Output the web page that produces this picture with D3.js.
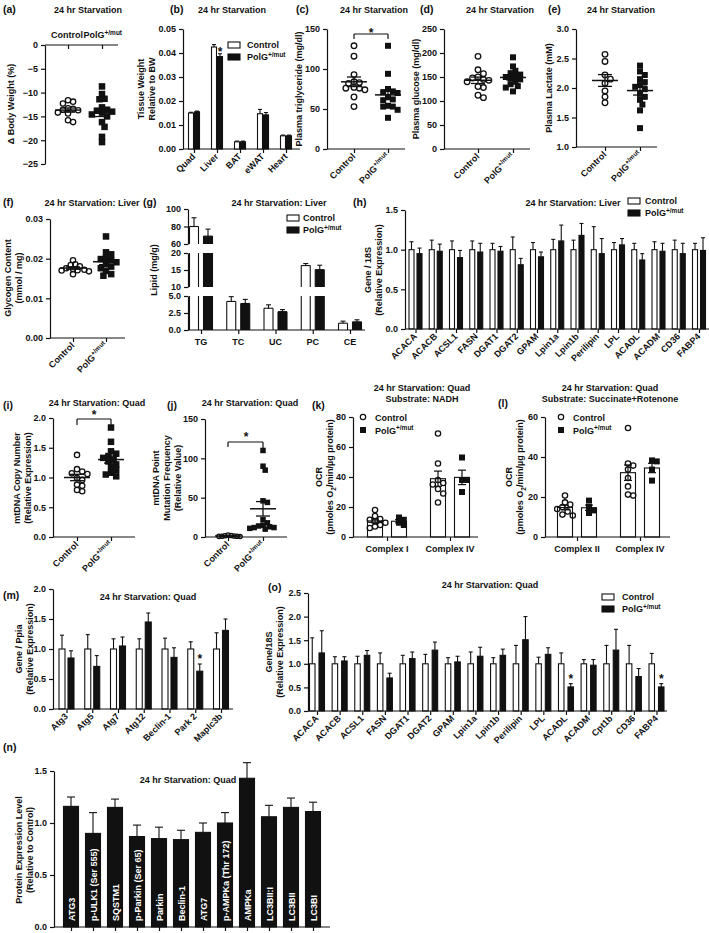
<!DOCTYPE html>
<html><head><meta charset="utf-8">
<script src="https://cdn.jsdelivr.net/npm/d3@7"></script>
<style>
body{margin:0;background:#fff}
svg{display:block}
</style></head><body>
<svg id="chart" width="709" height="933"></svg>
<script>
// ================= DATA =================
const groupsCP = ["Control", "PolG"];

const aControl = [-11.6, -11.9, -12.3, -13.3, -13.4, -13.6, -13.7, -14.2, -14.4, -15.8, -16.2];
const aPolG = [-8.7, -10.3, -11.3, -11.4, -13.1, -13.6, -13.8, -14.0, -14.2, -14.6, -15.0, -16.2, -17.2, -19.3, -20.4];
const aTicks = [0, -5, -10, -15, -20, -25];

const bTissues = ["Quad", "Liver", "BAT", "eWAT", "Heart"];
const bControl = [0.0150, 0.0425, 0.0030, 0.0147, 0.0055];
const bControlSem = [0.0003, 0.0010, 0.0003, 0.0018, 0.0003];
const bPolG = [0.0155, 0.0385, 0.0030, 0.0142, 0.0055];
const bPolGSem = [0.0003, 0.0012, 0.0003, 0.0010, 0.0003];
const bTicks = [0, 0.01, 0.02, 0.03, 0.04, 0.05];

const cControl = [129, 116, 93, 84, 83, 82, 77, 76, 76, 74, 65, 53];
const cPolG = [129, 94, 75, 72, 71, 70, 65, 62, 61, 54, 53, 53, 49, 39];
const cTicks = [0, 50, 100, 150];

const dControl = [193, 165, 157, 150, 148, 145, 143, 140, 130, 128, 112, 107];
const dPolG = [191, 172, 163, 158, 155, 152, 150, 147, 145, 140, 135, 131, 128, 120];
const dTicks = [0, 50, 100, 150, 200, 250];

const eControl = [2.57, 2.45, 2.22, 2.15, 2.08, 1.95, 1.85, 1.75];
const ePolG = [2.38, 2.28, 2.22, 2.15, 2.10, 2.05, 2.02, 1.98, 1.90, 1.85, 1.80, 1.72, 1.62, 1.32];
const eTicks = [1.0, 1.5, 2.0, 2.5, 3.0];

const fControl = [0.0196, 0.0186, 0.0184, 0.0181, 0.0176, 0.0174, 0.0172, 0.0171, 0.0170, 0.0168, 0.0161];
const fPolG = [0.0256, 0.0216, 0.0211, 0.0202, 0.0199, 0.0196, 0.0191, 0.0186, 0.0180, 0.0176, 0.0169, 0.0161, 0.0157];
const fTicks = [0, 0.01, 0.02, 0.03];

const gLipids = ["TG", "TC", "UC", "PC", "CE"];
const gControl = [80, 4.2, 3.2, 16.3, 1.0];
const gControlSem = [10, 0.7, 0.5, 0.6, 0.3];
const gPolG = [69, 3.9, 2.7, 15.1, 1.2];
const gPolGSem = [8, 0.6, 0.3, 1.3, 0.3];
const gTicksLow = [0, 2.5, 5], gTicksMid = [10, 15, 20], gTicksTop = [60, 80, 100];

const hGenes = ["ACACA","ACACB","ACSL1","FASN","DGAT1","DGAT2","GPAM","Lpin1a","Lpin1b","Perilipin","LPL","ACADL","ACADM","CD36","FABP4"];
const hControl = [1,1,1,1,1,1,1,1,1,1,1,1,1,1,1];
const hControlSem = [0.10,0.12,0.11,0.11,0.08,0.16,0.09,0.13,0.12,0.29,0.09,0.08,0.10,0.12,0.08];
const hPolG = [0.95,0.98,0.90,0.97,0.98,0.81,0.91,1.11,1.18,0.95,1.06,0.87,0.98,0.95,0.99];
const hPolGSem = [0.07,0.09,0.09,0.11,0.06,0.08,0.06,0.20,0.15,0.19,0.08,0.08,0.10,0.13,0.16];
const hTicks = [0, 0.5, 1.0, 1.5];

const iControl = [1.38, 1.14, 1.10, 1.07, 1.06, 0.99, 0.96, 0.88, 0.86, 0.79, 0.77];
const iPolG = [1.84, 1.60, 1.44, 1.40, 1.36, 1.33, 1.30, 1.27, 1.22, 1.18, 1.13, 1.08, 1.05, 1.02];
const iTicks = [0, 0.5, 1.0, 1.5, 2.0];

const jControl = [2.5, 2.0, 1.5, 1.2, 1.0, 0.9, 0.8, 0.6];
const jPolG = [110, 90, 85, 46, 44, 22, 18, 15, 14, 13, 12, 12, 11, 10];
const jTicks = [0, 50, 100, 150];

const kComplexes = ["Complex I", "Complex IV"];
const kControlPts = [[18, 14, 12, 11.5, 10.5, 9.5, 8, 7, 6], [69, 49, 38, 36, 35, 32, 29, 23]];
const kPolGPts = [[13, 11.5, 9.5, 8], [53, 38, 38, 30]];
const kTicks = [0, 20, 40, 60, 80];

const lComplexes = ["Complex II", "Complex IV"];
const lControlPts = [[20.7, 17.3, 16.2, 15, 14, 12.8, 11.2, 10.7], [54.5, 36.7, 35.7, 33.7, 29.5, 25.3, 21.2, 20.7]];
const lPolGPts = [[18.2, 15, 13.3, 12], [38.3, 37.8, 33.7, 28.2]];
const lTicks = [0, 20, 40, 60];

const mGenes = ["Atg3","Atg5","Atg7","Atg12","Beclin-1","Park 2","Maplc3b"];
const mControl = [1,1,1,1,1,1,1];
const mControlSem = [0.23, 0.24, 0.17, 0.17, 0.18, 0.12, 0.27];
const mPolG = [0.85, 0.71, 1.05, 1.45, 0.86, 0.63, 1.31];
const mPolGSem = [0.12, 0.18, 0.15, 0.15, 0.16, 0.12, 0.19];
const mTicks = [0, 0.5, 1.0, 1.5, 2.0];

const oGenes = ["ACACA","ACACB","ACSL1","FASN","DGAT1","DGAT2","GPAM","Lpin1a","Lpin1b","Perilipin","LPL","ACADL","ACADM","Cpt1b","CD36","FABP4"];
const oControl = [1,1,1,1,1,1,1,1,1,1,1,1,1,1,1,1];
const oControlSem = [0.55,0.15,0.16,0.23,0.18,0.20,0.13,0.25,0.13,0.39,0.14,0.23,0.09,0.39,0.39,0.22];
const oPolG = [1.23,1.06,1.18,0.70,1.11,1.29,1.04,1.16,1.18,1.51,1.20,0.51,0.97,1.29,0.73,0.51];
const oPolGSem = [0.47,0.09,0.10,0.10,0.14,0.17,0.12,0.19,0.13,0.49,0.14,0.07,0.12,0.44,0.17,0.07];
const oTicks = [0, 0.5, 1.0, 1.5, 2.0, 2.5];

const nProteins = ["ATG3","p-ULK1 (Ser 555)","SQSTM1","p-Parkin (Ser 65)","Parkin","Beclin-1","ATG7","p-AMPKa (Thr 172)","AMPKa","LC3BII:I","LC3BII","LC3BI"];
const nValues = [1.16, 0.90, 1.15, 0.87, 0.85, 0.84, 0.91, 1.00, 1.43, 1.06, 1.15, 1.11];
const nSem = [0.09, 0.20, 0.08, 0.11, 0.11, 0.09, 0.09, 0.10, 0.15, 0.11, 0.09, 0.09];
const nTicks = [0, 0.5, 1.0, 1.5];

// ================= HELPERS =================
const svg = d3.select("#chart");
const FONT = '"Liberation Sans", Arial, Helvetica, sans-serif';
const INK = "#111";

function txt(x, y, s, o = {}) {
  const t = svg.append("text").attr("x", x).attr("y", y)
    .attr("font-family", FONT).attr("font-weight", o.weight || "bold")
    .attr("font-size", o.size || 9).attr("fill", o.fill || INK)
    .attr("text-anchor", o.anchor || "start");
  if (o.rotate != null) t.attr("transform", `rotate(${o.rotate},${x},${y})`);
  t.text(s);
  return t;
}
function sup(t, s) { t.append("tspan").attr("dy", -3.5).attr("font-size", 6.5).text(s); return t; }
function polgText(x, y, o) { return sup(txt(x, y, "PolG", o), "+/mut"); }
function panelLabel(x, y, s) { txt(x, y, s, { size: 10.5 }); }
function title(x, y, s) { txt(x, y, s, { size: 9, anchor: "middle" }); }
function yLabel(x, yc, lines) { lines.forEach((l, i) => txt(x + i * 11, yc, l, { anchor: "middle", rotate: -90, size: 9 })); }
function line(x1, y1, x2, y2, w = 1.2) {
  svg.append("line").attr("x1", x1).attr("y1", y1).attr("x2", x2).attr("y2", y2)
    .attr("stroke", INK).attr("stroke-width", w);
}
function rect(x, y, w, h, filled) {
  svg.append("rect").attr("x", x).attr("y", y).attr("width", w).attr("height", Math.max(0, h))
    .attr("fill", filled ? INK : "#fff").attr("stroke", INK).attr("stroke-width", 1.1);
}
function styleAxis(a) {
  a.attr("font-family", FONT).attr("font-size", 9).attr("font-weight", "bold");
  a.selectAll("path,line").attr("stroke", INK).attr("stroke-width", 1.2);
  a.selectAll("text").attr("fill", INK);
}
function yAxis(scale, x, ticks, fmt) {
  const a = svg.append("g").attr("transform", `translate(${x},0)`)
    .call(d3.axisLeft(scale).tickValues(ticks).tickFormat(fmt).tickSize(4).tickSizeOuter(0));
  styleAxis(a); return a;
}
function xAxis(scale, y, x0, x1) {
  const a = svg.append("g").attr("transform", `translate(0,${y})`)
    .call(d3.axisBottom(scale).tickSize(4).tickFormat(""));
  a.select(".domain").remove();
  a.append("line").attr("x1", x0).attr("x2", x1);
  styleAxis(a); return a;
}
function rotLabels(scale, keys, y, names) {
  keys.forEach((k, i) => txt(scale(k) + 2, y, names ? names[i] : k, { anchor: "end", rotate: -45 }));
}
function cpLabels(scale, y) {
  txt(scale("Control") + 2, y, "Control", { anchor: "end", rotate: -45 });
  polgText(scale("PolG") + 2, y, { anchor: "end", rotate: -45 });
}
function swarm(values, yScale, r, f) {
  const pts = values.map(v => ({ v, y: yScale(v) })).sort((a, b) => a.y - b.y);
  const placed = [];
  const d = 2 * r;
  const minD = d * f, step = minD * 0.5;
  pts.forEach(p => {
    for (let k = 0; k < 80; k++) {
      const off = k === 0 ? 0 : (k % 2 ? 1 : -1) * Math.ceil(k / 2) * step;
      if (placed.every(q => (q.dx - off) ** 2 + (q.y - p.y) ** 2 >= minD * minD)) { p.dx = off; break; }
    }
    if (p.dx == null) p.dx = 0;
    placed.push(p);
  });
  return pts;
}
function drawPoints(cx, values, yScale, shape, size, f = 0.8) {
  const r = size / 2;
  swarm(values, yScale, r, f).forEach(p => {
    if (shape === "circle") {
      svg.append("circle").attr("cx", cx + p.dx).attr("cy", p.y).attr("r", r - 0.6)
        .attr("fill", "none").attr("stroke", INK).attr("stroke-width", 1.3);
    } else {
      svg.append("rect").attr("x", cx + p.dx - r).attr("y", p.y - r).attr("width", size).attr("height", size).attr("fill", INK);
    }
  });
}
function meanSem(cx, values, yScale, hwM = 13, hwS = 7) {
  const m = d3.mean(values), s = d3.deviation(values) / Math.sqrt(values.length);
  line(cx - hwM, yScale(m), cx + hwM, yScale(m), 1.5);
  line(cx, yScale(m + s), cx, yScale(m - s), 1.3);
  line(cx - hwS, yScale(m + s), cx + hwS, yScale(m + s), 1.3);
  line(cx - hwS, yScale(m - s), cx + hwS, yScale(m - s), 1.3);
}
function errUp(x, y1, y2, cap) { line(x, y1, x, y2, 1.1); line(x - cap, y2, x + cap, y2, 1.1); }
function groupedBars(keys, x, y, ctrl, ctrlE, polg, polgE, off, w, cap) {
  keys.forEach((k, i) => {
    const cx = x(k);
    [[ctrl[i], ctrlE[i], false, -off], [polg[i], polgE[i], true, off]].forEach(([v, e, f, o]) => {
      const bx = cx + o;
      errUp(bx, y(v), y(v + e), cap);
      rect(bx - w / 2, y(v), w, y(0) - y(v), f);
    });
  });
}
function star(x, y) { txt(x, y, "*", { anchor: "middle", size: 12 }); }
function legendBars(x, y, tx) {
  rect(x, y - 6, 12, 6, false); txt(tx, y, "Control");
  rect(x, y + 6, 12, 6, true); polgText(tx, y + 12);
}

// ================= (a) =================
{
  const y = d3.scaleLinear().domain([-25, 0]).range([164, 45]);
  const x = d3.scalePoint().domain(groupsCP).range([68, 102]);
  panelLabel(3, 13, "(a)"); title(88, 13, "24 hr Starvation");
  yAxis(y, 45, aTicks, d3.format("d"));
  xAxis(x, y(0), 45, 118);
  txt(83, 38, "Control", { anchor: "end" }); polgText(83.5, 38);
  yLabel(14, 104, ["\u0394 Body Weight (%)"]);
  drawPoints(x("Control"), aControl, y, "circle", 6.5, 0.78);
  drawPoints(x("PolG"), aPolG, y, "square", 6.5, 0.78);
  meanSem(x("Control"), aControl, y); meanSem(x("PolG"), aPolG, y);
}
// ================= (b) =================
{
  const y = d3.scaleLinear().domain([0, 0.05]).range([149, 29]);
  const x = d3.scalePoint().domain(bTissues).range([194, 286]);
  panelLabel(170, 13, "(b)"); title(232, 13, "24 hr Starvation");
  yAxis(y, 183, bTicks, d3.format(".2f"));
  xAxis(x, 149, 183, 300);
  yLabel(144, 89, ["Tissue Weight", "Relative to BW"]);
  groupedBars(bTissues, x, y, bControl, bControlSem, bPolG, bPolGSem, 3, 5, 2);
  star(x("Liver") + 3, y(bPolG[1] + bPolGSem[1]) + 2);
  rotLabels(x, bTissues, 157);
  legendBars(228, 48, 247);
}
// ================= (c) =================
{
  const y = d3.scaleLinear().domain([0, 150]).range([149, 29]);
  const x = d3.scalePoint().domain(groupsCP).range([354, 388]);
  panelLabel(296, 13, "(c)"); title(374, 13, "24 hr Starvation");
  yAxis(y, 327, cTicks, d3.format("d"));
  xAxis(x, 149, 327, 405);
  yLabel(302, 89, ["Plasma triglyceride (mg/dl)"]);
  drawPoints(x("Control"), cControl, y, "circle", 6.8, 0.8);
  drawPoints(x("PolG"), cPolG, y, "square", 6, 0.8);
  meanSem(x("Control"), cControl, y); meanSem(x("PolG"), cPolG, y);
  line(x("Control"), 39, x("Control"), 34); line(x("Control"), 34, x("PolG"), 34); line(x("PolG"), 34, x("PolG"), 39);
  star(371, 37);
  cpLabels(x, 157);
}
// ================= (d) =================
{
  const y = d3.scaleLinear().domain([0, 250]).range([149, 29]);
  const x = d3.scalePoint().domain(groupsCP).range([478, 513]);
  panelLabel(420, 13, "(d)"); title(500, 13, "24 hr Starvation");
  yAxis(y, 444, dTicks, d3.format("d"));
  xAxis(x, 149, 444, 530);
  yLabel(419, 89, ["Plasma glucose (mg/dl)"]);
  drawPoints(x("Control"), dControl, y, "circle", 6.8, 0.8);
  drawPoints(x("PolG"), dPolG, y, "square", 6, 0.8);
  meanSem(x("Control"), dControl, y); meanSem(x("PolG"), dPolG, y);
  cpLabels(x, 157);
}
// ================= (e) =================
{
  const y = d3.scaleLinear().domain([1, 3]).range([147, 29]);
  const x = d3.scalePoint().domain(groupsCP).range([605, 640]);
  panelLabel(548, 13, "(e)"); title(621, 13, "24 hr Starvation");
  yAxis(y, 576, eTicks, d3.format(".1f"));
  xAxis(x, 147, 576, 657);
  yLabel(552, 88, ["Plasma Lactate (mM)"]);
  drawPoints(x("Control"), eControl, y, "circle", 6.8, 0.8);
  drawPoints(x("PolG"), ePolG, y, "square", 6, 0.8);
  meanSem(x("Control"), eControl, y); meanSem(x("PolG"), ePolG, y);
  cpLabels(x, 155);
}
// ================= (f) =================
{
  const y = d3.scaleLinear().domain([0, 0.03]).range([338, 219]);
  const x = d3.scalePoint().domain(groupsCP).range([73, 106]);
  panelLabel(3, 206, "(f)"); title(92, 206, "24 hr Starvation: Liver");
  yAxis(y, 50, fTicks, d3.format(".2f"));
  xAxis(x, 338, 50, 125);
  yLabel(11, 278, ["Glycogen Content", "(mmol / mg)"]);
  drawPoints(x("Control"), fControl, y, "circle", 6.5, 0.7);
  drawPoints(x("PolG"), fPolG, y, "square", 6.5, 0.8);
  meanSem(x("Control"), fControl, y); meanSem(x("PolG"), fPolG, y);
  cpLabels(x, 346);
}
// ================= (g) broken axis =================
{
  const gLow = d3.scaleLinear().domain([0, 5]).range([330, 296]);
  const gMid = d3.scaleLinear().domain([10, 20]).range([287, 253]);
  const gTop = d3.scaleLinear().domain([60, 100]).range([244, 209]);
  const segs = [{ lo: 0, hi: 5, s: gLow }, { lo: 10, hi: 20, s: gMid }, { lo: 60, hi: 100, s: gTop }];
  const x = d3.scalePoint().domain(gLipids).range([201, 350]);
  panelLabel(143, 206, "(g)"); title(279, 206, "24 hr Starvation: Liver");
  yAxis(gLow, 188, gTicksLow, d3.format(".1f"));
  yAxis(gMid, 188, gTicksMid, d3.format("d"));
  yAxis(gTop, 188, gTicksTop, d3.format("d"));
  yLabel(157, 270, ["Lipid (mg/g)"]);
  const w = 9, off = 7;
  function brokenBar(bx, v, e, filled) {
    segs.forEach(sg => {
      if (v <= sg.lo) return;
      const top = Math.min(v, sg.hi);
      const yb = sg.s(sg.lo), yt = sg.s(top);
      svg.append("rect").attr("x", bx - w / 2).attr("y", yt).attr("width", w).attr("height", yb - yt).attr("fill", filled ? INK : "#fff");
      line(bx - w / 2, yb, bx - w / 2, yt, 1.1); line(bx + w / 2, yb, bx + w / 2, yt, 1.1);
      if (v <= sg.hi) line(bx - w / 2, yt, bx + w / 2, yt, 1.1);
      if (v > sg.lo && v <= sg.hi) errUp(bx, yt, sg.s(Math.min(v + e, sg.hi)), 2.5);
    });
  }
  gLipids.forEach((k, i) => {
    brokenBar(x(k) - off, gControl[i], gControlSem[i], false);
    brokenBar(x(k) + off, gPolG[i], gPolGSem[i], true);
  });
  xAxis(x, 330, 188, 365);
  gLipids.forEach(k => txt(x(k), 345, k, { anchor: "middle" }));
  legendBars(287, 221, 303);
}
// ================= (h) =================
{
  const y = d3.scaleLinear().domain([0, 1.5]).range([329, 210]);
  const x = d3.scalePoint().domain(hGenes).range([415.5, 699]);
  panelLabel(353, 206, "(h)"); title(573, 206, "24 hr Starvation: Liver");
  yAxis(y, 405, hTicks, d3.format(".1f"));
  yLabel(371, 270, ["Gene / 18S", "(Relative Expression)"]);
  groupedBars(hGenes, x, y, hControl, hControlSem, hPolG, hPolGSem, 4, 5, 2);
  xAxis(x, 329, 405, 709);
  rotLabels(x, hGenes, 337);
  legendBars(628, 204, 645);
}
// ================= (i) =================
{
  const y = d3.scaleLinear().domain([0, 2]).range([537, 418]);
  const x = d3.scalePoint().domain(groupsCP).range([77, 111]);
  panelLabel(3, 409, "(i)"); title(97, 406, "24 hr Starvation: Quad");
  yAxis(y, 53, iTicks, d3.format(".1f"));
  xAxis(x, 537, 53, 135);
  yLabel(20, 478, ["mtDNA Copy Number", "(Relative Expression)"]);
  drawPoints(x("Control"), iControl, y, "circle", 6.5, 0.8);
  drawPoints(x("PolG"), iPolG, y, "square", 6.5, 0.8);
  meanSem(x("Control"), iControl, y); meanSem(x("PolG"), iPolG, y);
  line(x("Control"), 425, x("Control"), 419); line(x("Control"), 419, x("PolG"), 419); line(x("PolG"), 419, x("PolG"), 425);
  star(94, 419);
  cpLabels(x, 545);
}
// ================= (j) =================
{
  const y = d3.scaleLinear().domain([0, 150]).range([537, 419]);
  const x = d3.scalePoint().domain(groupsCP).range([228, 263]);
  panelLabel(167, 409, "(j)"); title(250, 406, "24 hr Starvation: Quad");
  yAxis(y, 205, jTicks, d3.format("d"));
  xAxis(x, 537, 205, 287);
  yLabel(159, 478, ["mtDNA Point", "Mutation Frequency", "(Relative Value)"]);
  drawPoints(x("Control"), jControl, y, "circle", 5.5, 0.55);
  drawPoints(x("PolG"), jPolG, y, "square", 5.5, 0.8);
  meanSem(x("Control"), jControl, y); meanSem(x("PolG"), jPolG, y);
  line(x("Control"), 447, x("Control"), 442); line(x("Control"), 442, x("PolG"), 442); line(x("PolG"), 442, x("PolG"), 449);
  star(246, 441);
  cpLabels(x, 545);
}
// ================= (k) & (l) =================
function ocrPanel(o) {
  const y = d3.scaleLinear().domain([0, o.max]).range([537, 417]);
  const x = d3.scalePoint().domain(o.groups).range(o.range);
  panelLabel(o.lx, o.ly, o.label);
  title(o.tx, 391, "24 hr Starvation: Quad"); title(o.tx, 402, o.sub);
  yAxis(y, o.ax, o.ticks, d3.format("d"));
  const t = txt(o.ylx + 11, 477, "(pmoles O", { anchor: "middle", rotate: -90 });
  t.append("tspan").attr("dy", 3).attr("font-size", 6.5).text("2");
  t.append("tspan").attr("dy", -3).text("/min/\u00b5g protein)");
  txt(o.ylx, 477, "OCR", { anchor: "middle", rotate: -90 });
  o.groups.forEach((g, i) => {
    [[o.ctrl[i], -12, "circle"], [o.polg[i], 12, "square"]].forEach(([vals, off, shape]) => {
      const bx = x(g) + off;
      const m = d3.mean(vals), s = d3.deviation(vals) / Math.sqrt(vals.length);
      rect(bx - 7.5, y(m), 15, y(0) - y(m), false);
      line(bx, y(m - s), bx, y(m + s), 1.2);
      line(bx - 4, y(m + s), bx + 4, y(m + s), 1.2);
      line(bx - 4, y(m - s), bx + 4, y(m - s), 1.2);
      drawPoints(bx, vals, y, shape, shape === "circle" ? 6.5 : 6, 0.8);
    });
  });
  xAxis(x, 537, o.ax, o.axEnd);
  o.groups.forEach(g => txt(x(g), 552, g, { anchor: "middle" }));
  svg.append("circle").attr("cx", o.legx).attr("cy", 417).attr("r", 2.7).attr("fill", "none").attr("stroke", INK).attr("stroke-width", 1.2);
  txt(o.legx + 12, 420.5, "Control");
  svg.append("rect").attr("x", o.legx - 3).attr("y", 427).attr("width", 6).attr("height", 6).attr("fill", INK);
  polgText(o.legx + 12, 433.5);
}
ocrPanel({ label: "(k)", lx: 312, ly: 409, tx: 422, sub: "Substrate: NADH", max: 80, ticks: kTicks,
  groups: kComplexes, range: [387, 450], ax: 353, axEnd: 478, ylx: 322, ctrl: kControlPts, polg: kPolGPts, legx: 363 });
ocrPanel({ label: "(l)", lx: 498, ly: 407, tx: 610, sub: "Substrate: Succinate+Rotenone", max: 60, ticks: lTicks,
  groups: lComplexes, range: [577, 640], ax: 545, axEnd: 670, ylx: 512, ctrl: lControlPts, polg: lPolGPts, legx: 561 });

// ================= (m) =================
{
  const y = d3.scaleLinear().domain([0, 2]).range([709, 589]);
  const x = d3.scalePoint().domain(mGenes).range([66.5, 221]);
  panelLabel(3, 599, "(m)"); title(148, 600, "24 hr Starvation: Quad");
  yAxis(y, 53, mTicks, d3.format(".1f"));
  yLabel(22, 649, ["Gene / Ppia", "(Relative Expression)"]);
  groupedBars(mGenes, x, y, mControl, mControlSem, mPolG, mPolGSem, 4.5, 6, 2);
  star(x("Park 2") + 4.5, y(mPolG[5] + mPolGSem[5]) - 1);
  xAxis(x, 709, 53, 233);
  rotLabels(x, mGenes, 717);
}
// ================= (o) =================
{
  const y = d3.scaleLinear().domain([0, 2.5]).range([711, 593]);
  const x = d3.scalePoint().domain(oGenes).range([317, 656.5]);
  panelLabel(268, 591, "(o)"); title(490, 588, "24 hr Starvation: Quad");
  yAxis(y, 308, oTicks, d3.format(".1f"));
  yLabel(272, 652, ["Gene/18S", "(Relative Expression)"]);
  groupedBars(oGenes, x, y, oControl, oControlSem, oPolG, oPolGSem, 4.75, 5.5, 2);
  ["ACADL", "FABP4"].forEach(g => { const i = oGenes.indexOf(g); star(x(g) + 4.75, y(oPolG[i] + oPolGSem[i]) - 1); });
  xAxis(x, 711, 308, 667);
  rotLabels(x, oGenes, 719);
  legendBars(602, 600, 622);
}
// ================= (n) =================
{
  const y = d3.scaleLinear().domain([0, 1.5]).range([927, 771]);
  const x = d3.scalePoint().domain(nProteins).range([71, 313]);
  panelLabel(3, 751, "(n)"); title(188, 783, "24 hr Starvation: Quad");
  yAxis(y, 54, nTicks, d3.format(".1f"));
  yLabel(22, 850, ["Protein Expression Level", "(Relative to Control)"]);
  nProteins.forEach((p, i) => {
    errUp(x(p), y(nValues[i]), y(nValues[i] + nSem[i]), 4);
    rect(x(p) - 7.5, y(nValues[i]), 15, y(0) - y(nValues[i]), true);
    txt(x(p) + 3.5, 921, p, { anchor: "start", rotate: -90, fill: "#fff" });
  });
  xAxis(x, 927, 54, 330);
}
</script></body></html>
